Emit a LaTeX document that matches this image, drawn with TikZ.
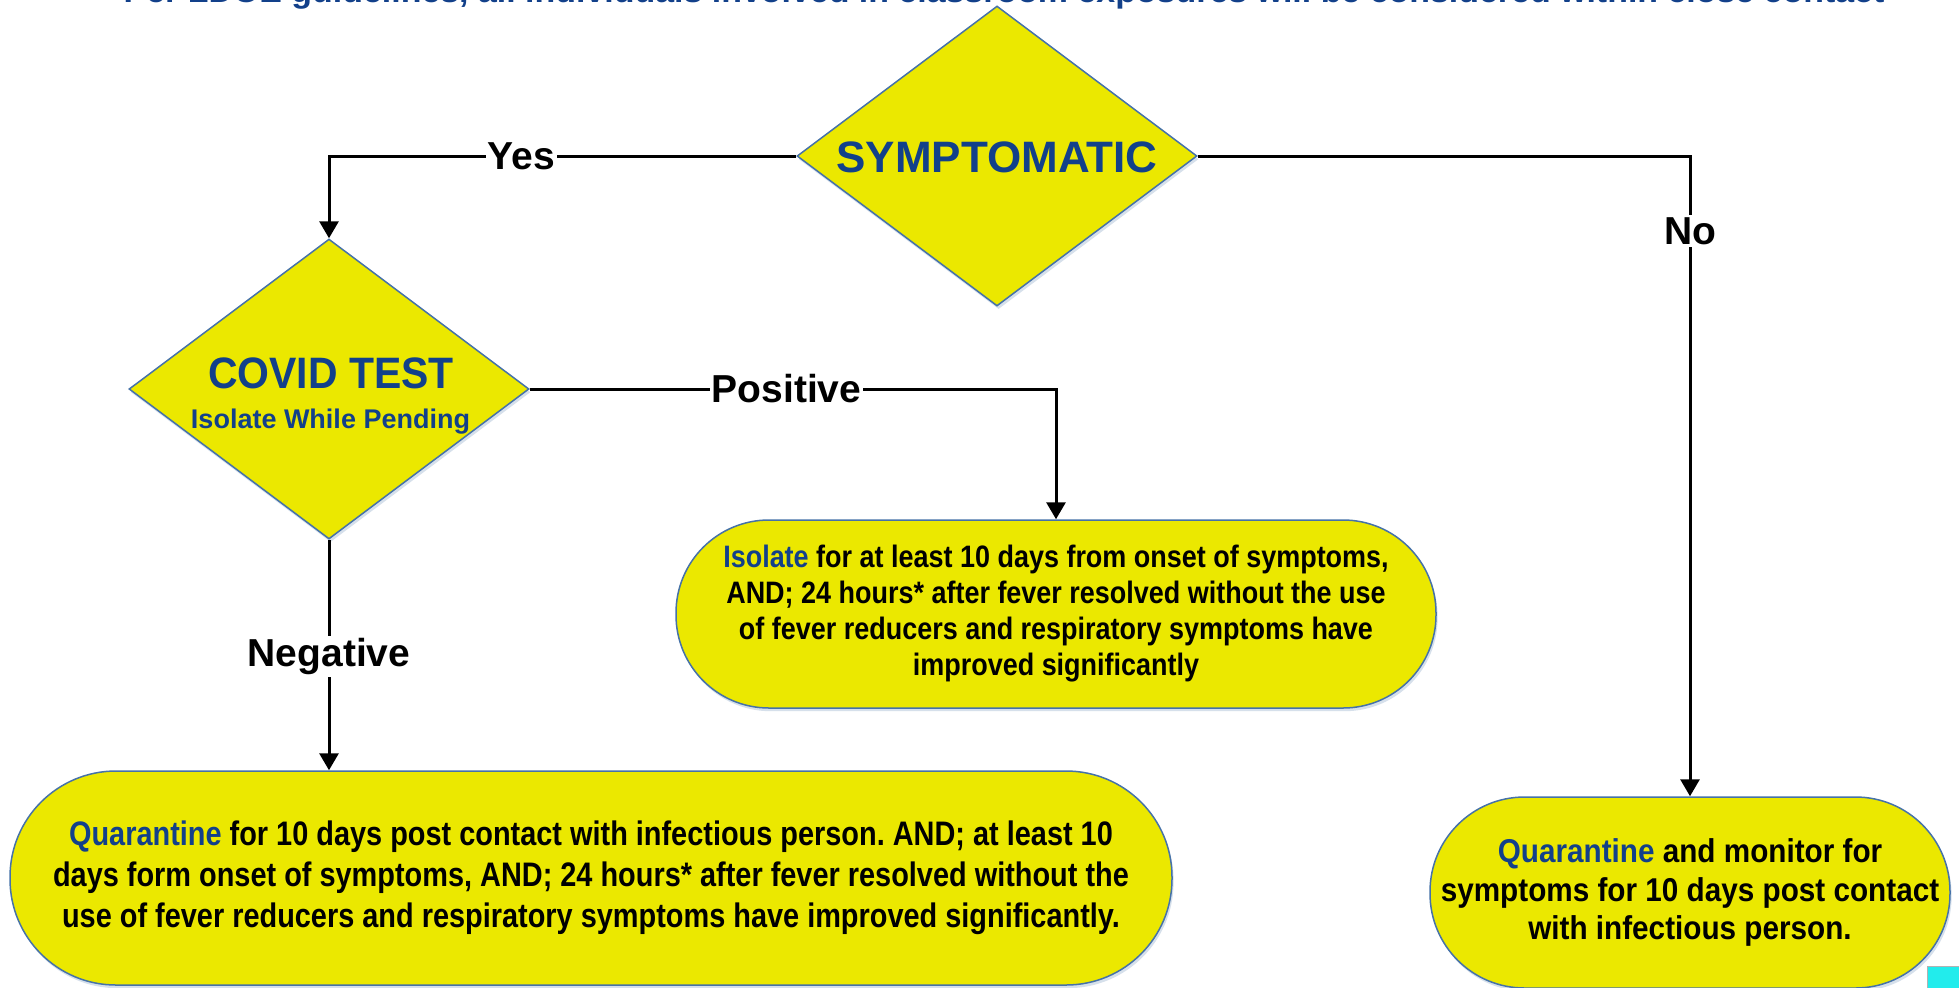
\documentclass[tikz,border=0pt]{standalone}
\usepackage{fontspec}
\setmainfont{Liberation Sans}
\frenchspacing
\newfontfamily\condA[FakeStretch=0.87]{Liberation Sans}
\newfontfamily\condB[FakeStretch=0.85]{Liberation Sans}
\newfontfamily\condC[FakeStretch=0.9]{Liberation Sans}
\newfontfamily\condD[FakeStretch=0.93]{Liberation Sans}
\newfontfamily\titlefont[FakeStretch=1.06]{Liberation Sans}
\usetikzlibrary{shapes.geometric,arrows.meta,shadows}
\definecolor{fillyel}{RGB}{235,232,0}
\definecolor{bordblue}{RGB}{70,114,168}
\definecolor{txtblue}{RGB}{18,64,138}
\definecolor{cyanbox}{RGB}{34,236,236}
\tikzset{
  shapeshadow/.style={drop shadow={shadow xshift=0.8pt,shadow yshift=-1.6pt,fill=bordblue,opacity=0.22}},
  decision/.style={diamond,draw=bordblue,line width=0.75pt,fill=fillyel,inner sep=0pt,
    minimum width=200pt,minimum height=150pt,shapeshadow},
  terminal/.style={rectangle,draw=bordblue,line width=0.75pt,fill=fillyel,inner sep=0pt,
    align=center,shapeshadow},
  conn/.style={draw=black,line width=1.5pt,-{Triangle[length=8.5pt,width=9.5pt]}},
  lab/.style={fill=white,inner sep=1pt,font=\bfseries\fontsize{19.5}{22}\selectfont},
  headtxt/.style={text=txtblue,font=\bfseries\fontsize{22}{24}\selectfont,anchor=base,inner sep=0pt},
}
\begin{document}
\begin{tikzpicture}[x=0.5pt,y=-0.5pt]
\useasboundingbox (0,0) rectangle (1959,987);
\fill[white] (0,0) rectangle (1959,987);

% cut-off title
\node[anchor=base,inner sep=0pt,text=txtblue,font=\titlefont\bfseries\fontsize{16}{18}\selectfont] (title) at (1004,2)
  {Per LDOE guidelines, all individuals involved in classroom exposures will be considered within close contact};

% decisions
\node[decision] (sym) at (997,156) {};
\node[headtxt] (symtxt) at (997,172) {SYMPTOMATIC};

\node[decision] (covid) at (329,389) {};
\node[headtxt,font=\condD\bfseries\fontsize{22}{24}\selectfont] (covtxt) at (331,388) {COVID TEST};
\node[headtxt,font=\bfseries\fontsize{13.5}{15}\selectfont] (covsub) at (330.5,428) {Isolate While Pending};

% terminals
\node[terminal,minimum width=380pt,minimum height=94pt,rounded corners=46.5pt,
  font=\condA\bfseries\fontsize{15.5}{18}\selectfont] (iso) at (1056,614)
  {{\color{txtblue}Isolate} for at least 10 days from onset of symptoms,\\
   AND; 24 hours* after fever resolved without the use\\
   of fever reducers and respiratory symptoms have\\
   improved significantly};

\node[terminal,minimum width=581pt,minimum height=107pt,rounded corners=53pt,
  font=\condB\bfseries\fontsize{17}{20.5}\selectfont] (quar) at (591,878)
  {{\color{txtblue}Quarantine} for 10 days post contact with infectious person. AND; at least 10\\
   days form onset of symptoms, AND; 24 hours* after fever resolved without the\\
   use of fever reducers and respiratory symptoms have improved significantly.};

\node[terminal,minimum width=260pt,minimum height=95.5pt,rounded corners=47.3pt,
  font=\condC\bfseries\fontsize{16.5}{19.25}\selectfont] (mon) at (1690,892.5)
  {{\color{txtblue}Quarantine} and monitor for\\
   symptoms for 10 days post contact\\
   with infectious person.};

% connectors
\draw[conn] (sym.west) -| (covid.north) node[lab,pos=0.294] (yes) {Yes};
\draw[conn] (sym.east) -| (mon.north) node[lab,pos=0.5585] (no) {No};
\draw[conn] (covid.east) -| (iso.north) node[lab,pos=0.244] (pos) {Positive};
\draw[conn] (covid.south) -- (covid.south |- quar.north) node[lab,pos=0.506] (neg) {Negative};

% small cyan box at the corner
\node[draw=gray!60,line width=0.5pt,fill=cyanbox,minimum width=20pt,minimum height=14pt,
  inner sep=0pt,anchor=north west] (corner) at (1927,966) {};
\end{tikzpicture}
\end{document}
